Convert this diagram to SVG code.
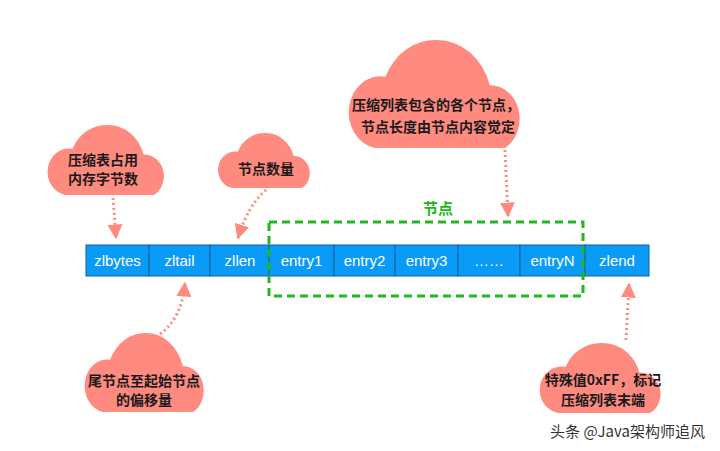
<svg xmlns="http://www.w3.org/2000/svg" width="720" height="451" viewBox="0 0 720 451">
<style>
.cell{fill:#0A9BF7;stroke:#14609A;stroke-width:1}
.ct{font-family:"Liberation Sans",Arial,sans-serif;font-size:15px;fill:#ffffff;text-anchor:middle}
.cloud{fill:#FF8A80}
.cl{font-family:"Noto Sans CJK SC","Noto Sans",sans-serif;font-size:14px;font-weight:bold;fill:#1a1a1a;text-anchor:middle}
.dot{fill:none;stroke:#FF8A80;stroke-width:3;stroke-dasharray:2 3}
</style>
<defs>
<path id="cloudShape" d="M32,100 H170 A31,31 0 0 0 154,42 A58,58 0 0 0 98,0 A58,58 0 0 0 43,34 A33,33 0 1 0 32,100 Z"/>
<marker id="ah" viewBox="0 0 10 10" refX="9" refY="5" markerWidth="5" markerHeight="5" orient="auto" markerUnits="strokeWidth">
<path d="M0,0 L10,5 L0,10 Z" fill="#FF8A80"/>
</marker>
</defs>
<rect width="720" height="451" fill="#ffffff"/>
<g id="bar">
<rect class="cell" x="86" y="245" width="63" height="31"/>
<rect class="cell" x="149" y="245" width="61" height="31"/>
<rect class="cell" x="210" y="245" width="59" height="31"/>
<rect class="cell" x="269" y="245" width="65" height="31"/>
<rect class="cell" x="334" y="245" width="61" height="31"/>
<rect class="cell" x="395" y="245" width="63" height="31"/>
<rect class="cell" x="458" y="245" width="62" height="31"/>
<rect class="cell" x="520" y="245" width="65" height="31"/>
<rect class="cell" x="585" y="245" width="64" height="31"/>
<text class="ct" x="117.5" y="266">zlbytes</text>
<text class="ct" x="179.5" y="266">zltail</text>
<text class="ct" x="240" y="266">zllen</text>
<text class="ct" x="301.5" y="266">entry1</text>
<text class="ct" x="364.5" y="266">entry2</text>
<text class="ct" x="426.5" y="266">entry3</text>
<text class="ct" x="489" y="266">……</text>
<text class="ct" x="552.5" y="266">entryN</text>
<text class="ct" x="617" y="266">zlend</text>
</g>
<g id="group-nodes">
<rect x="269" y="222" width="314" height="74" fill="none" stroke="#1DB91D" stroke-width="3" stroke-dasharray="8 5"/>
<text x="438" y="214" font-family="Noto Sans CJK SC,sans-serif" font-size="15" font-weight="bold" fill="#1DB91D" text-anchor="middle">节点</text>
</g>
<g id="cloud1">
<use href="#cloudShape" class="cloud" transform="translate(45,125) scale(0.64,0.7)"/>
<text class="cl" x="103" y="165">压缩表占用</text>
<text class="cl" x="103" y="184">内存字节数</text>
</g>
<g id="cloud2">
<use href="#cloudShape" class="cloud" transform="translate(216,133) scale(0.505,0.55)"/>
<text class="cl" x="266" y="174">节点数量</text>
</g>
<g id="cloud3">
<use href="#cloudShape" class="cloud" transform="translate(345,40) scale(0.94,1.08)"/>
<text class="cl" x="436" y="110">压缩列表包含的各个节点，</text>
<text class="cl" x="438" y="132">节点长度由节点内容觉定</text>
</g>
<g id="cloud4">
<use href="#cloudShape" class="cloud" transform="translate(82,333) scale(0.655,0.79)"/>
<text class="cl" x="144" y="386">尾节点至起始节点</text>
<text class="cl" x="144" y="405">的偏移量</text>
</g>
<g id="cloud5">
<use href="#cloudShape" class="cloud" transform="translate(537,343) scale(0.665,0.7)"/>
<text class="cl" x="603" y="385">特殊值0xFF，标记</text>
<text class="cl" x="603" y="405">压缩列表末端</text>
</g>
<g id="connectors">
<path class="dot" d="M113,198 L116,238" marker-end="url(#ah)"/>
<path class="dot" d="M266,190 Q248,205 238,238" marker-end="url(#ah)"/>
<path class="dot" d="M505,150 L508,216" marker-end="url(#ah)"/>
<path class="dot" d="M160,334 Q182,318 185,283" marker-end="url(#ah)"/>
<path class="dot" d="M626,340 L629,284" marker-end="url(#ah)"/>
</g>
<text x="705" y="437" font-family="Noto Sans CJK SC,sans-serif" font-size="15" fill="#333333" text-anchor="end">头条 @Java架构师追风</text>
</svg>
